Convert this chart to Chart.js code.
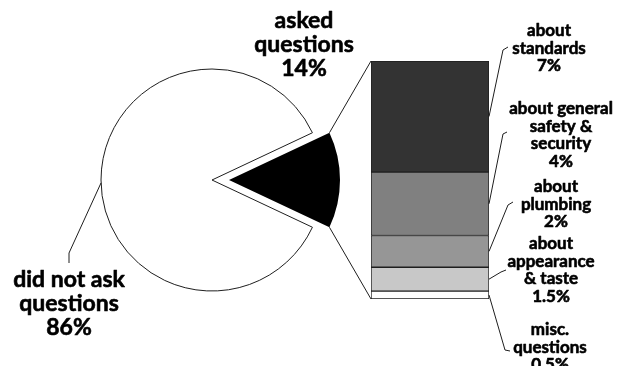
<!DOCTYPE html>
<html>
<head>
<meta charset="utf-8">
<title>Questions asked</title>
<script src="https://cdn.jsdelivr.net/npm/chart.js@4.4.1/dist/chart.umd.min.js"></script>
<style>
  html, body { margin: 0; padding: 0; background: #fff; }
  #wrap { position: relative; width: 620px; height: 366px; }
  #wrap canvas { position: absolute; left: 0; top: 0; }
</style>
</head>
<body>
<div id="wrap">
  <canvas id="pieChart" width="620" height="366"></canvas>
  <canvas id="sliceChart" width="620" height="366"></canvas>
  <canvas id="barChart" width="620" height="366"></canvas>
</div>
<script>
// Share of people who asked questions
const pieLabels = ['asked questions', 'did not ask questions'];
const pieValues = [14, 86];

// What the questions were about (bottom of the bar first)
const breakdownLabels = ['misc. questions', 'about appearance & taste', 'about plumbing',
                         'about general safety & security', 'about standards'];
const breakdownValues = [0.5, 1.5, 2, 4, 7];
const breakdownColors = ['#ffffff', '#c8c8c8', '#969696', '#808080', '#333333'];

// how each label is broken over lines
const pieLines = [['asked', 'questions'], ['did not ask', 'questions']];
const breakdownLines = [['misc.', 'questions'], ['about', 'appearance', '& taste'], ['about', 'plumbing'],
                        ['about general', 'safety &', 'security'], ['about', 'standards']];

// callout placement: label centre x, first line y, leader elbow and tick end
const breakdownCallouts = [
    { x: 550, y: 330, elbow: [505, 350], tick: [510, 351] },
    { x: 551, y: 244, elbow: [501, 272], tick: [506, 270] },
    { x: 556, y: 187, elbow: [508, 205], tick: [513, 202] },
    { x: 561, y: 109, elbow: [503, 134], tick: [507, 132] },
    { x: 549, y: 31,  elbow: [503, 50],  tick: [508, 47] }
];
const pieCallouts = [
    { x: 304, y: 21 },
    { x: 69, y: 280, angle: 178.5, elbow: [69, 253], tick: [69, 263] }
];

const FONT = 'Lato, "DejaVu Sans", sans-serif';
const INK = '#1e1e1e';

const pieTotal = pieValues.reduce((a, b) => a + b, 0);
// turn the pie so the "asked" wedge is centred on the right-hand side
const pieRotation = 90 - (pieValues[0] / pieTotal) * 360 / 2;
const PIE_RADIUS = 111;

const baseOptions = {
    responsive: false,
    animation: false,
    events: [],
    plugins: { legend: { display: false }, tooltip: { enabled: false } }
};

// main pie, with a hole where the pulled-out wedge was
const pieChart = new Chart(document.getElementById('pieChart'), {
    type: 'pie',
    data: {
        labels: pieLabels,
        datasets: [{
            data: pieValues,
            backgroundColor: ['rgba(0,0,0,0)', '#ffffff'],
            borderColor: INK,
            borderWidth: [0, 1]
        }]
    },
    options: {
        ...baseOptions,
        rotation: pieRotation,
        radius: PIE_RADIUS,
        layout: { padding: { left: 0, right: 196, top: 0, bottom: 6 } }
    }
});

// the black "asked questions" wedge, pulled out to the right
const sliceChart = new Chart(document.getElementById('sliceChart'), {
    type: 'pie',
    data: {
        labels: pieLabels,
        datasets: [{
            data: pieValues,
            backgroundColor: ['#000000', 'rgba(0,0,0,0)'],
            borderWidth: 0
        }]
    },
    options: {
        ...baseOptions,
        rotation: pieRotation,
        radius: PIE_RADIUS,
        layout: { padding: { left: 34, right: 196, top: 0, bottom: 6 } }
    }
});

// heavy centred text, a thin stroke thickens the bold face a little
function drawLines(ctx, lines, x, y, lh) {
    lines.forEach((t, i) => {
        ctx.strokeText(t, x, y + i * lh);
        ctx.fillText(t, x, y + i * lh);
    });
}

function polyline(ctx, pts) {
    ctx.beginPath();
    ctx.moveTo(pts[0][0], pts[0][1]);
    for (let i = 1; i < pts.length; i++) ctx.lineTo(pts[i][0], pts[i][1]);
    ctx.stroke();
}

// connectors between wedge and bar, leader lines and all the labels
const calloutPlugin = {
    id: 'callouts',
    afterDraw(chart) {
        const ctx = chart.ctx;
        const wedge = sliceChart.getDatasetMeta(0).data[0];
        const meta0 = chart.getDatasetMeta(0).data[0];
        const metaTop = chart.getDatasetMeta(breakdownValues.length - 1).data[0];
        const barLeft = metaTop.x - metaTop.width / 2;
        const barRight = metaTop.x + metaTop.width / 2;

        ctx.save();
        ctx.strokeStyle = INK;
        ctx.lineWidth = 1;

        // wedge corners to the top and bottom of the bar
        const c1 = [wedge.x + wedge.outerRadius * Math.cos(wedge.startAngle),
                    wedge.y + wedge.outerRadius * Math.sin(wedge.startAngle)];
        const c2 = [wedge.x + wedge.outerRadius * Math.cos(wedge.endAngle),
                    wedge.y + wedge.outerRadius * Math.sin(wedge.endAngle)];
        polyline(ctx, [c1, [barLeft, metaTop.y]]);
        polyline(ctx, [c2, [barLeft, meta0.base]]);

        // leader for "did not ask"
        const pie = pieChart.getDatasetMeta(0).data[1];
        const pc = pieCallouts[1];
        const a = pc.angle * Math.PI / 180;
        polyline(ctx, [[pie.x + pie.outerRadius * Math.cos(a), pie.y + pie.outerRadius * Math.sin(a)],
                       pc.elbow, pc.tick]);

        // leaders from each bar segment
        breakdownValues.forEach((v, i) => {
            const el = chart.getDatasetMeta(i).data[0];
            const mid = (el.y + el.base) / 2;
            const co = breakdownCallouts[i];
            polyline(ctx, [[barRight, mid], co.elbow, co.tick]);
        });

        ctx.fillStyle = '#000';
        ctx.strokeStyle = '#000';
        ctx.lineWidth = 0.6;
        ctx.lineJoin = 'round';
        ctx.textAlign = 'center';
        ctx.textBaseline = 'middle';

        ctx.font = 'bold 23px ' + FONT;
        pieValues.forEach((v, i) => {
            const co = pieCallouts[i];
            drawLines(ctx, pieLines[i].concat(v + '%'), co.x, co.y, 24);
        });

        ctx.font = 'bold 17px ' + FONT;
        breakdownValues.forEach((v, i) => {
            const co = breakdownCallouts[i];
            drawLines(ctx, breakdownLines[i].concat(v + '%'), co.x, co.y, 17.5);
        });
        ctx.restore();
    }
};

// stacked breakdown bar of the 14%
const barChart = new Chart(document.getElementById('barChart'), {
    type: 'bar',
    data: {
        labels: ['asked questions'],
        datasets: breakdownValues.map((v, i) => ({
            label: breakdownLabels[i],
            data: [v],
            backgroundColor: breakdownColors[i],
            borderColor: INK,
            borderWidth: 1,
            borderSkipped: false,
            categoryPercentage: 1,
            barPercentage: 1
        }))
    },
    options: {
        ...baseOptions,
        layout: { padding: { left: 371, right: 131, top: 61, bottom: 67 } },
        scales: {
            x: { stacked: true, display: false },
            y: { stacked: true, display: false, min: 0,
                 max: breakdownValues.reduce((a, b) => a + b, 0) }
        }
    },
    plugins: [calloutPlugin]
});
</script>
</body>
</html>
